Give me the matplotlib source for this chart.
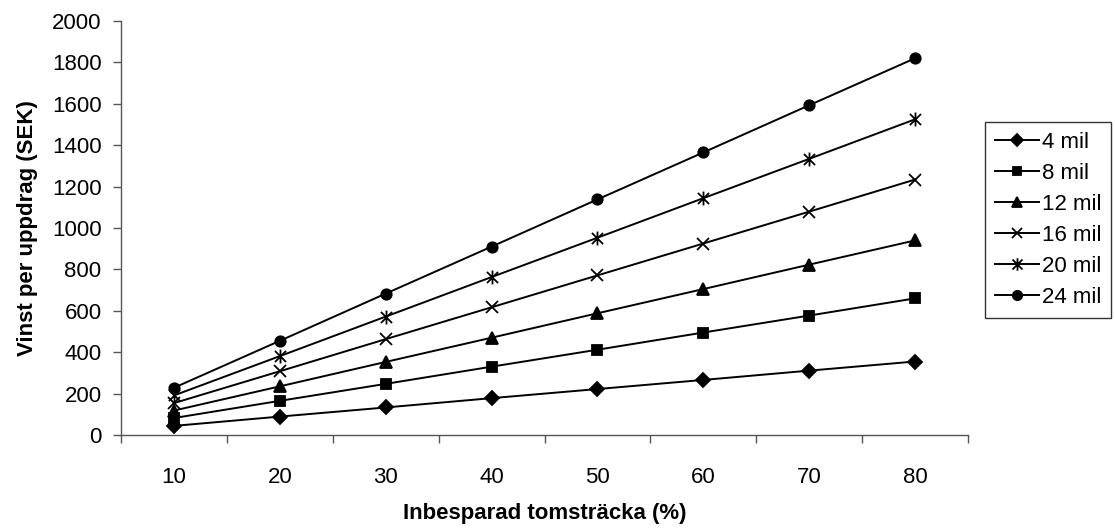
import matplotlib
matplotlib.use("Agg")
import matplotlib.pyplot as plt
from matplotlib.path import Path

plt.rcParams['font.family'] = ['Liberation Sans', 'DejaVu Sans']

# data
procent = ['10', '20', '30', '40', '50', '60', '70', '80']
mil_4 = [44, 89, 133, 178, 222, 266, 311, 355]
mil_8 = [82, 165, 247, 330, 412, 495, 577, 660]
mil_12 = [118, 235, 353, 470, 588, 705, 823, 940]
mil_16 = [154, 308, 463, 617, 771, 925, 1079, 1234]
mil_20 = [191, 381, 572, 763, 953, 1144, 1334, 1525]
mil_24 = [228, 455, 683, 910, 1138, 1365, 1593, 1820]
serier = ['4 mil', '8 mil', '12 mil', '16 mil', '20 mil', '24 mil']

# excel style star: x with a vertical bar
stjarna = Path([(-1, -1), (1, 1), (-1, 1), (1, -1), (0, -1.25), (0, 1.25)],
               [Path.MOVETO, Path.LINETO, Path.MOVETO, Path.LINETO, Path.MOVETO, Path.LINETO])

markorer = [('D', 7), ('s', 7), ('^', 8), ('x', 8), (stjarna, 10), ('o', 7.5)]

fig = plt.figure(figsize=(11.15, 5.28), dpi=100)
ax = fig.add_axes([121/1115, 1-435/528, (968-121)/1115, (435-21)/528])

x = list(range(len(procent)))
for namn, y, (m, ms) in zip(serier, [mil_4, mil_8, mil_12, mil_16, mil_20, mil_24], markorer):
    ax.plot(x, y, color='black', lw=1.4, marker=m, markersize=ms,
            markerfacecolor='black', markeredgecolor='black', markeredgewidth=1.3,
            label=namn, clip_on=False)

ax.set_xlim(-0.5, len(procent)-0.5)
ax.set_ylim(0, 2000)
ax.set_yticks(range(0, 2001, 200))
ax.set_xticks(x)
ax.set_xticklabels(procent)
ax.set_xticks([i-0.5 for i in range(len(procent)+1)], minor=True)
ax.tick_params(axis='x', which='major', length=0, pad=23, labelsize=16)
ax.tick_params(axis='x', which='minor', length=6, width=1, color='#555555', direction='out')
ax.tick_params(axis='y', length=6, width=1, color='#555555', direction='out', labelsize=16, pad=8)

for s in ['top', 'right']:
    ax.spines[s].set_visible(False)
for s in ['left', 'bottom']:
    ax.spines[s].set_color('#555555')
    ax.spines[s].set_linewidth(1)

ax.set_xlabel('Inbesparad tomsträcka (%)', fontsize=16, fontweight='bold', labelpad=11)
ax.set_ylabel('Vinst per uppdrag (SEK)', fontsize=16, fontweight='bold', labelpad=10)

leg = fig.legend(loc='upper left', bbox_to_anchor=(985/1115, 1-122/528), fontsize=16,
                 frameon=True, fancybox=False, edgecolor='black', handlelength=2.0,
                 handletextpad=0.1, labelspacing=0.45, borderpad=0.45, borderaxespad=0,
                 markerscale=0.9)
leg.get_frame().set_linewidth(1)

fig.savefig('out.png', dpi=100)
